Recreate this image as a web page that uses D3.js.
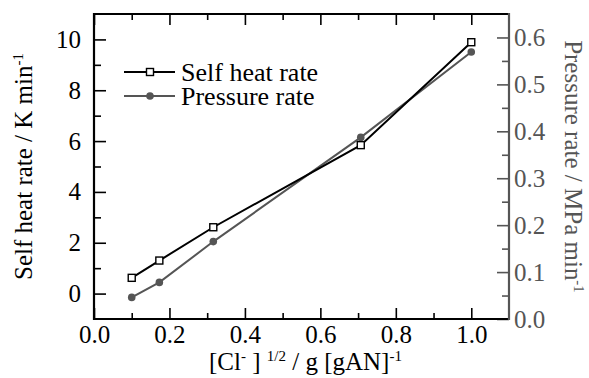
<!DOCTYPE html>
<html><head><meta charset="utf-8">
<script src="https://cdn.jsdelivr.net/npm/d3@7"></script>
<style>
body{margin:0;background:#fff;}
text{font-family:"Liberation Serif","Times New Roman",serif;}
</style></head>
<body><svg id="c" width="589" height="378"></svg>
<script>
const xValues = [0.1, 0.1732, 0.3162, 0.7071, 1.0];
const selfHeatRate = [0.62, 1.30, 2.61, 5.84, 9.89];
const pressureRate = [0.046, 0.078, 0.165, 0.387, 0.569];
const xTicks = [0.0, 0.2, 0.4, 0.6, 0.8, 1.0];
const yLeftTicks = [0, 2, 4, 6, 8, 10];
const yRightTicks = [0.0, 0.1, 0.2, 0.3, 0.4, 0.5, 0.6];
const seriesNames = ["Self heat rate", "Pressure rate"];

const GRAY = "#555555";
const TICKFS = "25px", LABFS = "25px", LEGFS = "26px", SUPFS = "15px";
const svg = d3.select("#c");
const L = 94, R = 509, T = 14, B = 319;
const x = d3.scaleLinear().domain([0, 1.1]).range([L, R]);
const yL = d3.scaleLinear().domain([-1, 11]).range([B, T]);
const yR = d3.scaleLinear().domain([0, 0.65]).range([B, T]);

const fmt1 = d3.format(".1f");
function style(g, color){
  g.select(".domain").remove();
  g.selectAll("line").attr("stroke", color).attr("stroke-width", 1.6);
  g.selectAll("text").attr("fill", color).style("font-size",TICKFS).style("font-family",'"Liberation Serif",serif');
}
const xMinor = d3.range(0.1, 1.1, 0.2);
const yLMinor = d3.range(1, 11, 2);
const yRMinor = d3.range(0.05, 0.65, 0.1);

svg.append("g").attr("transform",`translate(0,${B})`)
  .call(d3.axisBottom(x).tickValues(xTicks).tickFormat(fmt1).tickSize(-11).tickPadding(6)).call(g=>style(g,"#000"));
svg.append("g").attr("transform",`translate(0,${B})`)
  .call(d3.axisBottom(x).tickValues(xMinor).tickFormat("").tickSize(-6)).call(g=>style(g,"#000"));
svg.append("g").attr("transform",`translate(0,${T})`)
  .call(d3.axisTop(x).tickValues(xTicks).tickFormat("").tickSize(-11)).call(g=>style(g,"#000"));
svg.append("g").attr("transform",`translate(0,${T})`)
  .call(d3.axisTop(x).tickValues(xMinor).tickFormat("").tickSize(-6)).call(g=>style(g,"#000"));
svg.append("g").attr("transform",`translate(${L},0)`)
  .call(d3.axisLeft(yL).tickValues(yLeftTicks).tickFormat(d3.format("d")).tickSize(-12).tickPadding(13)).call(g=>style(g,"#000"));
svg.append("g").attr("transform",`translate(${L},0)`)
  .call(d3.axisLeft(yL).tickValues(yLMinor).tickFormat("").tickSize(-7)).call(g=>style(g,"#000"));
svg.append("g").attr("transform",`translate(${R},0)`)
  .call(d3.axisRight(yR).tickValues(yRightTicks).tickFormat(fmt1).tickSize(-12).tickPadding(5)).call(g=>style(g,GRAY));
svg.append("g").attr("transform",`translate(${R},0)`)
  .call(d3.axisRight(yR).tickValues(yRMinor).tickFormat("").tickSize(-7)).call(g=>style(g,GRAY));

svg.append("path").attr("d",`M${R},${T}H${L}V${B}H${R}`).attr("fill","none").attr("stroke","#000").attr("stroke-width",2.2);
svg.append("line").attr("x1",R).attr("x2",R).attr("y1",T-1).attr("y2",B+1).attr("stroke",GRAY).attr("stroke-width",2.2);

const pts = xValues.map((v,i)=>({x:v, s:selfHeatRate[i], p:pressureRate[i]}));
svg.append("path").datum(pts).attr("fill","none").attr("stroke",GRAY).attr("stroke-width",2)
  .attr("d", d3.line().x(d=>x(d.x)).y(d=>yR(d.p)));
svg.append("path").datum(pts).attr("fill","none").attr("stroke","#000").attr("stroke-width",2)
  .attr("d", d3.line().x(d=>x(d.x)).y(d=>yL(d.s)));
svg.selectAll("circle.p").data(pts).join("circle").attr("class","p")
  .attr("cx",d=>x(d.x)).attr("cy",d=>yR(d.p)).attr("r",3.8).attr("fill",GRAY);
svg.selectAll("rect.s").data(pts).join("rect").attr("class","s")
  .attr("x",d=>x(d.x)-3.5).attr("y",d=>yL(d.s)-3.5).attr("width",7).attr("height",7)
  .attr("fill","#fff").attr("stroke","#000").attr("stroke-width",1.4);

const lg = svg.append("g");
[[seriesNames[0],"#000","rect",72],[seriesNames[1],GRAY,"circle",96]].forEach(([name,col,mk,yy])=>{
  lg.append("line").attr("x1",124).attr("x2",175).attr("y1",yy).attr("y2",yy).attr("stroke",col).attr("stroke-width",2);
  if(mk==="rect") lg.append("rect").attr("x",146.5).attr("y",yy-3.5).attr("width",7).attr("height",7).attr("fill","#fff").attr("stroke","#000").attr("stroke-width",1.4);
  else lg.append("circle").attr("cx",150).attr("cy",yy).attr("r",3.8).attr("fill",col);
  lg.append("text").attr("x",181).attr("y",yy).attr("dy","0.33em").style("font-size",LEGFS).attr("fill","#000").text(name);
});

const xl = svg.append("text").attr("x",(L+R)/2+4).attr("y",370).attr("text-anchor","middle").style("font-size",LABFS).attr("fill","#000");
xl.append("tspan").text("[Cl");
xl.append("tspan").attr("dy",-9).style("font-size",SUPFS).text("-");
xl.append("tspan").attr("dy",9).text(" ] ");
xl.append("tspan").attr("dy",-9).style("font-size",SUPFS).text("1/2");
xl.append("tspan").attr("dy",9).text(" / g [gAN]");
xl.append("tspan").attr("dy",-9).style("font-size",SUPFS).text("-1");

const yl = svg.append("text").attr("transform",`translate(32,${(T+B)/2}) rotate(-90)`).attr("text-anchor","middle").style("font-size",LABFS).attr("fill","#000");
yl.append("tspan").text("Self heat rate / K min");
yl.append("tspan").attr("dy",-9).style("font-size",SUPFS).text("-1");

const yr = svg.append("text").attr("transform",`translate(565,${(T+B)/2}) rotate(90)`).attr("text-anchor","middle").style("font-size",LABFS).attr("fill",GRAY);
yr.append("tspan").text("Pressure rate / MPa min");
yr.append("tspan").attr("dy",-9).style("font-size",SUPFS).text("-1");
</script></body></html>
